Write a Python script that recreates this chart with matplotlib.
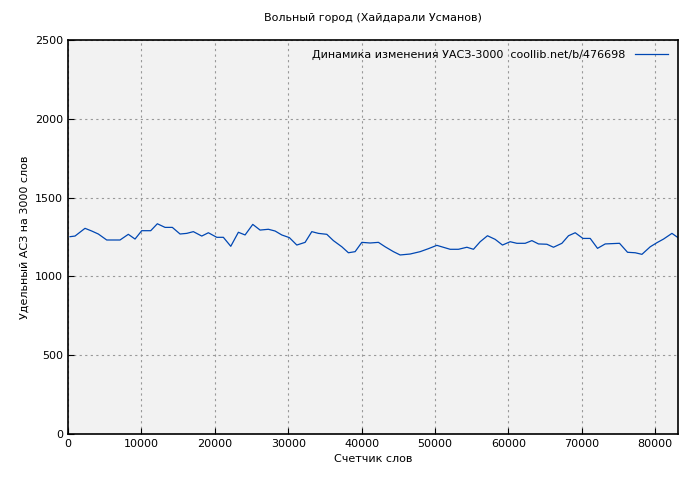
import matplotlib
matplotlib.use("Agg")
import matplotlib.pyplot as plt

words = [273,954,2317,3230,4130,5274,7087,8218,9131,10044,11271,12170,13220,14214,15264,16177,17076,18222,19121,20266,21165,22174,23210,24123,25172,26167,27298,28211,29124,30160,31169,32300,33213,34113,35258,36157,37302,38201,39114,40027,41158,42290,43203,44334,45247,46610,47973,49104,50249,52061,53193,54338,55237,56150,57145,58194,59189,60238,61151,62283,63196,64095,65240,66139,67284,68183,69097,70146,71141,72136,73185,75134,76225,77274,78187,79319,80232,81131,82276,83039]
values = [1252,1256,1305,1288,1269,1231,1231,1267,1237,1290,1290,1334,1311,1311,1269,1273,1284,1256,1277,1248,1248,1191,1280,1263,1330,1294,1299,1288,1263,1246,1199,1216,1284,1273,1267,1227,1188,1150,1157,1216,1212,1216,1188,1157,1136,1142,1157,1176,1197,1172,1172,1185,1172,1220,1258,1235,1199,1220,1210,1210,1227,1206,1204,1185,1210,1258,1277,1241,1241,1178,1206,1210,1153,1150,1140,1188,1214,1237,1273,1248]

plt.rcParams['font.family'] = ['DejaVu Sans']
fig = plt.figure(figsize=(7, 4.8), dpi=100)
fig.patch.set_facecolor('white')
ax = fig.add_axes([68/700, 1-434/480, (678-68)/700, (434-40)/480])
ax.set_facecolor('#f2f2f2')
ax.plot(words, values, color='#0047b3', lw=0.9, label='Динамика изменения УАСЗ-3000  coollib.net/b/476698')
ax.set_xlim(0, 83100)
ax.set_ylim(0, 2500)
ax.set_xticks(range(0, 80001, 10000))
ax.set_yticks(range(0, 2501, 500))
ax.grid(True, color='#999999', ls=(0, (2, 3)), lw=0.8)
ax.tick_params(labelsize=8, direction='in', length=4)
for s in ax.spines.values():
    s.set_linewidth(1.2)
ax.set_title('Вольный город (Хайдарали Усманов)', fontsize=8, pad=14)
ax.set_xlabel('Счетчик слов', fontsize=8)
ax.set_ylabel('Удельный АСЗ на 3000 слов', fontsize=8)
leg = ax.legend(loc='upper right', fontsize=8, frameon=False, markerfirst=False, handlelength=3)
fig.savefig('out.png', dpi=100)
